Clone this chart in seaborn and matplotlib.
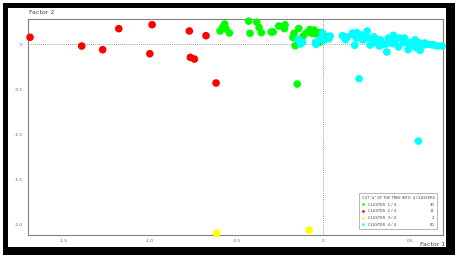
import numpy as np
import pandas as pd
import seaborn as sns
import matplotlib.pyplot as plt
from matplotlib.patches import Rectangle

plt.switch_backend('Agg')

# factor coordinates per cluster
c1_x = [-0.569, -0.580, -0.596, -0.542, -0.431, -0.423, -0.384, -0.371, -0.358, -0.301,
        -0.290, -0.257, -0.221, -0.225, -0.142, -0.169, -0.176, -0.117, -0.078, -0.163,
        -0.151, -0.065, -0.039, -0.025, -0.016, -0.023, 0.023, -0.099, -0.053, -0.561]
c1_y = [0.226, 0.192, 0.148, 0.126, 0.257, 0.122, 0.246, 0.187, 0.129, 0.137,
        0.137, 0.204, 0.217, 0.174, 0.176, 0.123, 0.076, 0.089, 0.164, -0.016,
        -0.442, 0.120, 0.115, 0.128, 0.131, 0.022, 0.087, 0.126, 0.159, 0.170]

c2_x = [-1.692, -1.394, -1.273, -1.180, -0.988, -1.001, -0.773, -0.677, -0.767, -0.744, -0.619]
c2_y = [0.078, -0.019, -0.060, 0.174, 0.218, -0.105, 0.148, 0.096, -0.145, -0.164, -0.430]

c3_x = [-0.615, -0.082]
c3_y = [-2.100, -2.066]

c4_x = [-0.147, -0.119, -0.046, -0.042, -0.005, 0.039, 0.033, -0.019, 0.116, 0.127,
        0.173, 0.181, 0.193, 0.208, 0.222, 0.252, 0.256, 0.285, 0.291, 0.308,
        0.323, 0.331, 0.362, 0.366, 0.404, 0.401, 0.439, 0.433, 0.462, 0.489,
        0.489, 0.512, 0.529, 0.537, 0.551, 0.558, 0.577, 0.603, 0.626, 0.658,
        0.685, 0.206, 0.548, 0.110, 0.218, 0.191, 0.229, 0.345, 0.411, 0.497,
        0.468, 0.376, 0.269, -0.131, 0.006, 0.139, 0.168, 0.517, 0.586, 0.638]
c4_y = [0.056, 0.026, 0.022, 0.000, 0.126, 0.092, 0.062, 0.056, 0.089, 0.051,
        0.107, -0.011, 0.129, 0.100, 0.078, 0.148, 0.073, 0.014, 0.085, 0.056,
        -0.019, 0.048, 0.003, -0.086, 0.100, 0.007, 0.070, -0.030, 0.018, 0.018,
        -0.060, 0.022, 0.051, -0.041, 0.018, -0.067, -0.011, 0.000, -0.004, -0.019,
        -0.019, -0.383, -1.076, 0.096, 0.103, 0.070, 0.048, 0.003, 0.026, -0.019,
        0.070, 0.070, -0.008, 0.003, 0.048, 0.081, 0.126, -0.019, 0.014, -0.008]

cluster_names = ['CLUSTER  1 / 4', 'CLUSTER  2 / 4', 'CLUSTER  3 / 4', 'CLUSTER  4 / 4']
cluster_colors = ['#00ff00', '#ff0000', '#ffff00', '#00ffff']
x_ticks = [-1.5, -1.0, -0.5, 0, 0.5]
x_tick_labels = ['-1.5', '-1.0', '-0.5', '0', '0.5']
y_ticks = [0, -0.5, -1.0, -1.5, -2.0]
y_tick_labels = ['0', '-0.5', '-1.0', '-1.5', '-2.0']

df = pd.DataFrame({
    'f1': c1_x + c2_x + c3_x + c4_x,
    'f2': c1_y + c2_y + c3_y + c4_y,
    'cluster': [cluster_names[0]] * len(c1_x) + [cluster_names[1]] * len(c2_x)
               + [cluster_names[2]] * len(c3_x) + [cluster_names[3]] * len(c4_x),
})
counts = df['cluster'].value_counts().reindex(cluster_names)

sns.set_style('white')
plt.rcParams['font.family'] = ['DejaVu Sans']

fig = plt.figure(figsize=(4.58, 2.58), dpi=100)
W, H = 458.0, 258.0

# black frame around the whole chart
fig.patches.append(Rectangle((3 / W, 3 / H), 452 / W, 252 / H, transform=fig.transFigure,
                             facecolor='black', edgecolor='none', zorder=-10))
fig.patches.append(Rectangle((8.3 / W, 11 / H), 437.7 / W, 238.7 / H, transform=fig.transFigure,
                             facecolor='white', edgecolor='none', zorder=-9))

ax = fig.add_axes([28.3 / W, 23 / H, (443 - 28.3) / W, (235 - 19.3) / H])
ax.set_facecolor('white')
ax.patch.set_alpha(0)

ax.axhline(0, color='#808080', lw=0.6, ls=(0, (1, 1.5)), zorder=1)
ax.axvline(0, color='#808080', lw=0.6, ls=(0, (1, 1.5)), zorder=1)

sns.scatterplot(data=df, x='f1', y='f2', hue='cluster', hue_order=cluster_names,
                palette=cluster_colors, s=30, linewidth=0, ax=ax, zorder=3)
for coll in ax.collections:
    coll.set_clip_on(False)

ax.set_xlim(-1.702, 0.69)
ax.set_ylim(-2.12, 0.278)
ax.set_xticks(x_ticks)
ax.set_xticklabels(x_tick_labels)
ax.set_yticks(y_ticks)
ax.set_yticklabels(y_tick_labels)
ax.tick_params(axis='both', labelsize=3, colors='#606060', length=2.5, width=0.5, pad=1.5)
ax.tick_params(axis='x', direction='inout')
ax.set_xlabel('')
ax.set_ylabel('')
for sp in ax.spines.values():
    sp.set_color('#808080')
    sp.set_linewidth(0.8)

fig.text(29 / W, 1 - 13 / H, 'Factor 2', fontsize=4.5, color='#404040', va='center', ha='left')
fig.text(445 / W, 1 - 245 / H, 'Factor 1', fontsize=4.5, color='#404040', va='center', ha='right')

leg = ax.legend(loc='lower right', bbox_to_anchor=(1 - 4 / 414.7, 4 / 215.7),
                title='CUT "a" OF THE TREE INTO  4 CLUSTERS', title_fontsize=2.6,
                fontsize=2.7, frameon=True, fancybox=False, markerscale=0.35,
                handletextpad=0.6, handlelength=1.0, borderpad=0.7,
                labelspacing=0.7, alignment='left')
leg.get_frame().set_edgecolor('#808080')
leg.get_frame().set_linewidth(0.5)
leg.get_title().set_color('#404040')
for t in leg.get_texts():
    t.set_color('#404040')
# make room for the count column on the right of the labels
for t in leg.get_texts():
    t.set_text(t.get_text() + ' ' * 16)

fig.canvas.draw()
frame_box = leg.get_frame().get_window_extent()
inv = fig.transFigure.inverted()
for t, n in zip(leg.get_texts(), counts):
    bb = t.get_window_extent()
    cy = (bb.y0 + bb.y1) / 2
    x_fig, y_fig = inv.transform((frame_box.x1 - 3, cy))
    fig.text(x_fig, y_fig, str(n), fontsize=2.7, color='#404040', ha='right', va='center')

fig.savefig('out.png', dpi=100)
plt.close(fig)
